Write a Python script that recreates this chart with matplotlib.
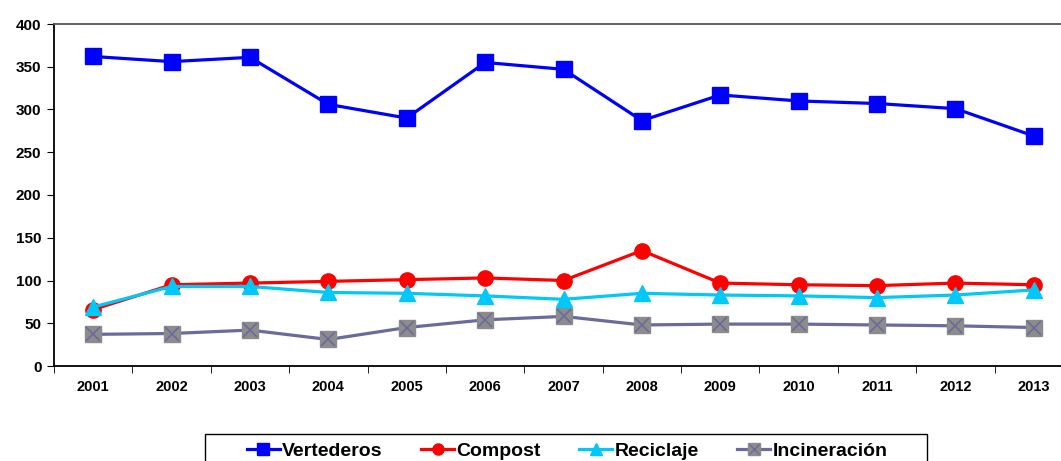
from matplotlib import pyplot as plt
from matplotlib.lines import Line2D
from matplotlib.patches import Rectangle
import numpy as np

years = ['2001', '2002', '2003', '2004', '2005', '2006', '2007',
         '2008', '2009', '2010', '2011', '2012', '2013']
vertederos = [362, 356, 361, 306, 290, 355, 347, 287, 317, 310, 307, 301, 269]
compost = [66, 95, 97, 99, 101, 103, 100, 135, 97, 95, 94, 97, 95]
reciclaje = [69, 93, 93, 86, 85, 82, 78, 85, 83, 82, 80, 83, 89]
incineracion = [37, 38, 42, 31, 45, 54, 58, 48, 49, 49, 48, 47, 45]

plt.rcParams['font.family'] = ['Liberation Sans', 'DejaVu Sans']

W, H = 1061, 461
fig = plt.figure(figsize=(W / 100, H / 100), dpi=100)
ax = fig.add_axes([54 / W, 95 / H, 1019 / W, 342 / H])

x = np.arange(len(years))
lw = 2.3
ax.plot(x, vertederos, color='#0000ff', lw=lw, marker='s', ms=11, zorder=5)
ax.plot(x, compost, color='#ff0000', lw=lw, marker='o', ms=11, zorder=4)
ax.plot(x, reciclaje, color='#00c8f8', lw=lw, marker='^', ms=11, zorder=4)
ax.plot(x, incineracion, color='#6a6a9c', lw=lw, marker='s', ms=11,
        mfc='#8c8c8c', mec='#8c8c8c', zorder=3)
ax.plot(x, incineracion, ls='none', marker='x', ms=10, mew=1.2,
        color='#6a6a9c', zorder=3.5)

ax.set_xlim(-0.5, len(years) - 0.5)
ax.set_ylim(0, 400)
ax.set_yticks(range(0, 401, 50))
ax.set_xticks(x)
ax.set_xticklabels(years)
ax.set_xticks(np.arange(-0.5, len(years), 1), minor=True)
ax.tick_params(axis='x', which='major', length=0, pad=10)
ax.tick_params(axis='x', which='minor', length=5, direction='out')
ax.tick_params(axis='y', length=5, direction='out', pad=4)
for lab in ax.get_xticklabels():
    lab.set_fontweight('bold')
    lab.set_fontsize(10.5)
for lab in ax.get_yticklabels():
    lab.set_fontweight('bold')
    lab.set_fontsize(11)
for s in ax.spines.values():
    s.set_linewidth(1.3)
ax.spines['top'].set_color('#555555')

# legend box (runs off the bottom edge like the original)
fig.patches.append(Rectangle((205 / W, -0.05), 722 / W, 0.05 + 27 / H,
                             transform=fig.transFigure, fill=False,
                             edgecolor='black', lw=1.0))

handles = [
    Line2D([], [], color='#0000ff', lw=lw, marker='s', ms=8),
    Line2D([], [], color='#ff0000', lw=lw, marker='o', ms=8),
    Line2D([], [], color='#00c8f8', lw=lw, marker='^', ms=8),
    (Line2D([], [], color='#6a6a9c', lw=lw, marker='s', ms=8,
            mfc='#8c8c8c', mec='#8c8c8c'),
     Line2D([], [], ls='none', marker='x', ms=7, mew=1.0, color='#6a6a9c')),
]
labels = ['Vertederos', 'Compost', 'Reciclaje', 'Incineración']
fig.legend(handles, labels, ncol=4, loc='center',
           bbox_to_anchor=(567 / W, 1 - 451 / H),
           frameon=False, handlelength=1.7, handletextpad=0.1,
           columnspacing=2.0, borderpad=0,
           prop={'size': 14, 'weight': 'bold'})

fig.savefig('out.png', dpi=100)
